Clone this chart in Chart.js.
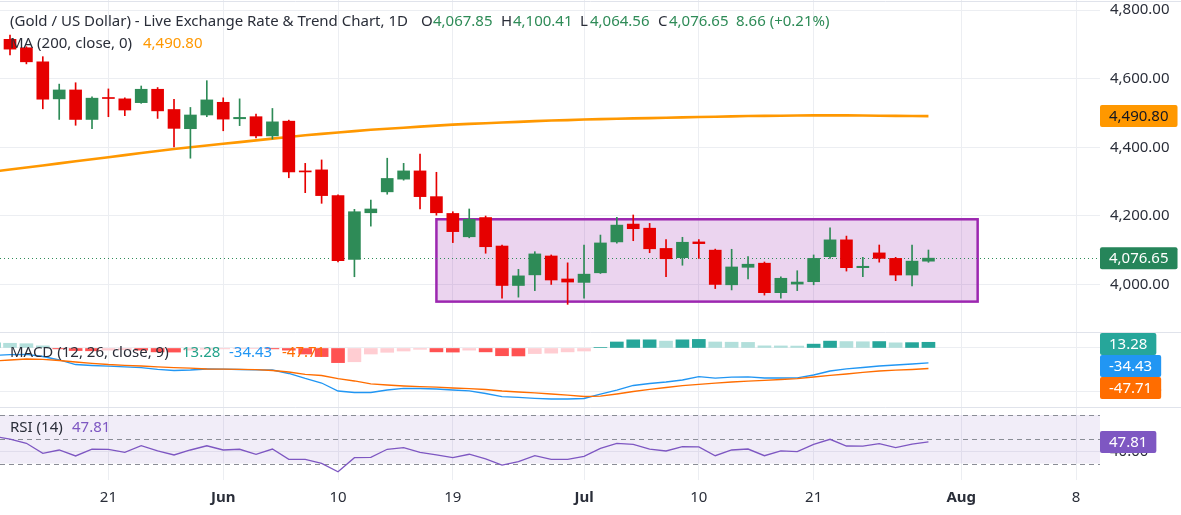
<!DOCTYPE html>
<html>
<head>
<meta charset="utf-8">
<script src="https://cdn.jsdelivr.net/npm/chart.js@4.4.1/dist/chart.umd.min.js"></script>
<style>
  html, body { margin: 0; padding: 0; background: #fff; }
  #wrap { position: relative; width: 1181px; height: 515px; }
</style>
</head>
<body>
<div id="wrap"><canvas id="goldChart" width="1181" height="515"></canvas></div>
<script>
// daily sessions, first entry is the session just left of the frame (bar -1)
const open = [4740, 4714.6, 4690, 4649, 4541, 4567, 4481, 4545, 4541, 4530, 4569, 4510, 4454, 4494, 4531, 4483, 4489, 4433, 4476, 4331,
  4334, 4259, 4073, 4209, 4270, 4307, 4331, 4256, 4207, 4139, 4195, 4112, 3997, 4028, 4083, 4016, 4006, 4034, 4124, 4176,
  4164, 4105, 4078, 4124, 4100, 3999, 4050, 4062, 3976, 4001, 4008, 4081, 4130, 4049, 4092, 4076, 4027.5, 4067.85];
const high = [4752, 4727, 4693, 4664, 4584, 4588, 4547, 4570, 4544, 4578.5, 4574, 4540, 4516, 4594, 4544, 4541, 4497, 4513, 4479, 4353,
  4363, 4261, 4219, 4246, 4368, 4353, 4380, 4327, 4212, 4220, 4199.5, 4115, 4044, 4095.5, 4086, 4063, 4115, 4144, 4196, 4202.5,
  4178, 4131, 4137.5, 4131, 4103, 4102.5, 4081, 4065.5, 4022.5, 4040, 4086, 4165, 4141, 4079, 4115, 4079, 4115, 4100.41];
const low = [4705, 4669, 4643, 4512, 4481, 4464, 4454, 4489, 4492, 4528, 4484, 4401, 4368, 4489, 4448, 4463, 4427, 4424, 4311, 4267.5,
  4236.5, 4066, 4022.5, 4170, 4263, 4304, 4220, 4202, 4122, 4136, 4091, 3960, 3963, 3982, 4000, 3942, 3960, 4032, 4120, 4127.5,
  4092.5, 4022.5, 4056, 4076, 3988, 3984, 4016, 3969, 3960, 3982, 3999, 4076, 4039, 4022.5, 4065, 4011, 3996, 4064.56];
const close = [4712, 4686, 4649, 4540, 4567, 4481, 4543, 4542, 4508.5, 4569, 4506, 4455, 4494, 4538, 4482, 4487, 4433, 4474, 4328, 4328,
  4259, 4069, 4212, 4220, 4309, 4331, 4256, 4209, 4154, 4190, 4110, 3997, 4025, 4089, 4013, 4007, 4030, 4121, 4173, 4162.5,
  4104, 4075, 4123, 4119, 4000, 4051, 4059, 3976, 4018, 4007, 4076, 4130, 4049, 4053, 4076, 4027.5, 4067.99, 4076.65];

const ma200 = [4329, 4335, 4341, 4347, 4353, 4359, 4365, 4371, 4377, 4383, 4389, 4395, 4400, 4405, 4410, 4415, 4420, 4425, 4430, 4435,
  4439, 4443, 4447, 4451, 4454, 4457, 4460, 4463, 4466, 4468, 4470, 4472, 4474, 4476, 4478, 4479, 4481, 4482, 4483, 4484,
  4485, 4486, 4487, 4488, 4489, 4490, 4491, 4491.5, 4492, 4492.5, 4493, 4493, 4493, 4492.5, 4492, 4491.5, 4491, 4490.8];

const macdLine = [-17, -15.6, -14.7, -19.8, -27.9, -38.4, -40.7, -42.3, -43.7, -45.8, -49.5, -52.3, -51.2, -48.8, -49.3, -50.0, -50.7, -51.2, -59.3, -70.9,
  -81.4, -100.0, -103.5, -103.5, -97.7, -93.7, -94.2, -95.3, -97.7, -99.5, -105.8, -113.3, -114.7, -117.0, -118.6, -118.6, -117.4, -107.0, -97.7, -87.2,
  -82.6, -79.1, -74.4, -66.7, -70.2, -67.9, -67.0, -69.8, -69.8, -69.3, -62.8, -53.5, -48.4, -45.3, -41.9, -39.5, -37.2, -34.43];
const signalLine = [-30, -27.9, -25.6, -26.3, -29.1, -32.6, -35.6, -38.4, -40.2, -41.9, -44.0, -45.6, -47.0, -48.8, -49.1, -49.5, -50.5, -52.3, -55.8, -61.2,
  -64.0, -71.0, -76.7, -83.3, -86.0, -88.4, -90.0, -91.2, -93.0, -94.4, -96.5, -100.0, -102.3, -104.2, -107.0, -109.8, -112.8, -112.1, -107.0, -101.2,
  -96.3, -91.9, -87.4, -84.4, -81.9, -79.1, -77.0, -75.1, -73.3, -71.2, -67.4, -63.7, -60.5, -56.5, -53.5, -51.6, -50.0, -47.71];
const macdHist = [12, 11, 10, 5, -2, -6, -6.5, -5, -4, -5, -9, -9.5, -5, -3, -2, -1, -0.8, -2, -5, -14,
  -20, -34, -32, -14, -10, -7, -3, -9, -9.5, -5, -9, -18, -18.5, -13, -12, -9, -7, 1, 14, 19,
  19, 16, 19, 20, 14, 13.5, 13, 5, 4.8, 4.5, 9, 16, 15, 14.5, 15, 12, 12.5, 13.28];

const rsi14 = [52.5, 50.2, 46.7, 38.5, 41.2, 36.3, 41.8, 41.7, 39.3, 44.7, 40.4, 37.1, 41.2, 44.7, 41.2, 41.8, 37.7, 42.0, 33.5, 33.4,
  30.2, 23.3, 34.9, 35.2, 41.8, 43.1, 39.3, 37.1, 34.9, 37.7, 33.8, 28.8, 31.6, 36.5, 33.5, 33.4, 36.0, 42.6, 46.7, 45.9,
  42.0, 40.4, 43.9, 43.7, 36.5, 41.2, 42.0, 36.5, 40.4, 39.8, 45.9, 50.0, 44.5, 44.4, 46.4, 43.1, 46.1, 47.81];

// time axis: bar index of each label
const tickDays = [6, 13, 20, 27, 35, 42, 49, 58, 65];
const tickLabels = ['21', 'Jun', '10', '19', 'Jul', '10', '21', 'Aug', '8'];
const priceTicks = [4000, 4200, 4400, 4600, 4800];
const macdTicks = [0, -100];
const rsiTicks = [40];
const rsiLevels = [70, 50, 30];
// consolidation box drawn on the chart (bar index / price)
const rangeBox = { fromDay: 26, toDay: 59, low: 3950, high: 4190 };

const FONT = '"Noto Sans", "DejaVu Sans", sans-serif';
const TEXT = '#2a2e39';
const UP = '#2e8b57', DOWN = '#e60000';
const GRID = '#eceef2', SEP = '#e0e3eb';

const bars = open.map((_, k) => k - 1);
const candleColor = bars.map((_, k) => close[k] >= open[k] ? UP : DOWN);
const histColor = macdHist.map((v, k) => {
  const prev = k ? macdHist[k - 1] : v;
  if (v >= 0) return v >= prev ? '#26a69a' : '#b2dfdb';
  return v < prev ? '#ff5252' : '#ffcdd2';
});

const fmt = v => v.toLocaleString('en-US', { minimumFractionDigits: 2, maximumFractionDigits: 2 });
const pts = arr => bars.map((x, k) => ({ x, y: arr[k] }));

const noPad = s => { s.paddingTop = 0; s.paddingBottom = 0; s.paddingLeft = 0; s.paddingRight = 0; };
function paneAxis(weight, min, max, ticks) {
  return {
    type: 'linear', position: 'right', stack: 'panes', stackWeight: weight,
    min, max, bounds: 'data',
    afterBuildTicks: s => { s.ticks = ticks.map(v => ({ value: v })); },
    afterFit: s => { s.width = 81; noPad(s); },
    grid: { color: GRID, drawTicks: false },
    border: { display: false },
    ticks: { padding: 10, color: TEXT, font: { family: FONT, size: 15 }, callback: v => fmt(v) }
  };
}

function tag(ctx, text, left, cy, bg, fg) {
  ctx.font = `15px ${FONT}`;
  const w = ctx.measureText(text).width + 18, h = 22;
  ctx.fillStyle = bg;
  ctx.beginPath();
  ctx.roundRect(left, cy - h / 2, w, h, 2);
  ctx.fill();
  ctx.fillStyle = fg;
  ctx.textAlign = 'left';
  ctx.textBaseline = 'middle';
  ctx.fillText(text, left + 9, cy + 1);
  return cy + h / 2;
}

function legend(ctx, parts, cy) {
  ctx.textAlign = 'left';
  ctx.textBaseline = 'middle';
  ctx.font = `15px ${FONT}`;
  for (const [text, x, color] of parts) {
    ctx.fillStyle = color;
    ctx.fillText(text, x, cy);
  }
}

const paneDecor = {
  id: 'paneDecor',
  beforeDatasetsDraw(chart) {
    const { ctx, chartArea: a, scales: { x, y, yRsi } } = chart;
    ctx.save();
    // RSI band and levels
    const r70 = yRsi.getPixelForValue(rsiLevels[0]), r30 = yRsi.getPixelForValue(rsiLevels[2]);
    ctx.fillStyle = 'rgba(126, 87, 194, 0.11)';
    ctx.fillRect(a.left, r70, a.width, r30 - r70);
    ctx.strokeStyle = '#8a8d96';
    ctx.lineWidth = 1;
    ctx.setLineDash([5, 4]);
    for (const lv of rsiLevels) {
      const py = Math.round(yRsi.getPixelForValue(lv)) + 0.5;
      ctx.beginPath(); ctx.moveTo(a.left, py); ctx.lineTo(a.right, py); ctx.stroke();
    }
    // range box
    ctx.setLineDash([]);
    const bx0 = x.getPixelForValue(rangeBox.fromDay), bx1 = x.getPixelForValue(rangeBox.toDay);
    const by0 = y.getPixelForValue(rangeBox.high), by1 = y.getPixelForValue(rangeBox.low);
    ctx.fillStyle = 'rgba(156, 39, 176, 0.2)';
    ctx.fillRect(bx0, by0, bx1 - bx0, by1 - by0);
    ctx.strokeStyle = '#9c27b0';
    ctx.lineWidth = 2.5;
    ctx.strokeRect(bx0, by0, bx1 - bx0, by1 - by0);
    // last price line
    const lp = Math.round(y.getPixelForValue(close[close.length - 1])) + 0.5;
    ctx.strokeStyle = UP;
    ctx.lineWidth = 1;
    ctx.setLineDash([1, 3]);
    ctx.beginPath(); ctx.moveTo(a.left, lp); ctx.lineTo(a.right, lp); ctx.stroke();
    ctx.restore();
  },
  afterDraw(chart) {
    const { ctx, chartArea: a, scales: { y, yMacd, yRsi } } = chart;
    const last = close.length - 1;
    ctx.save();
    // pane separators
    ctx.strokeStyle = SEP;
    ctx.lineWidth = 1;
    for (const py of [1.5, Math.round(yMacd.top) + 0.5, Math.round(yRsi.top) + 0.5]) {
      ctx.beginPath(); ctx.moveTo(0, py); ctx.lineTo(chart.width, py); ctx.stroke();
    }
    // legends
    const chg = close[last] - close[last - 1];
    legend(ctx, [
      ['(Gold / US Dollar) - Live Exchange Rate & Trend Chart, 1D', 10, TEXT],
      ['O', 421, TEXT], [fmt(open[last]), 433, UP],
      ['H', 501, TEXT], [fmt(high[last]), 513, UP],
      ['L', 580, TEXT], [fmt(low[last]), 590, UP],
      ['C', 658, TEXT], [fmt(close[last]), 669, UP],
      [`${fmt(chg)} (+${fmt(chg / close[last - 1] * 100)}%)`, 736, UP]
    ], 22);
    legend(ctx, [['MA (200, close, 0)', 10, TEXT], [fmt(ma200[last]), 143, '#ff9800']], 44);
    legend(ctx, [
      ['MACD (12, 26, close, 9)', 10, TEXT], [fmt(macdHist[last]), 182, '#22a38a'],
      [fmt(macdLine[last]), 229, '#2196f3'], [fmt(signalLine[last]), 282, '#ff6d00']
    ], 353);
    legend(ctx, [['RSI (14)', 10, TEXT], [fmt(rsi14[last]), 72, '#7e57c2']], 428);
    // value tags on the right scale
    tag(ctx, fmt(ma200[last]), a.right, y.getPixelForValue(ma200[last]), '#ff9800', '#131722');
    tag(ctx, fmt(close[last]), a.right, y.getPixelForValue(close[last]), '#26855a', '#ffffff');
    let bottom = yMacd.top + 1;
    for (const [v, bg] of [[macdHist[last], '#26a69a'], [macdLine[last], '#2196f3'], [signalLine[last], '#ff6d00']]) {
      const cy = Math.max(yMacd.getPixelForValue(v), bottom + 11);
      bottom = tag(ctx, fmt(v), a.right, cy, bg, '#ffffff');
    }
    tag(ctx, fmt(rsi14[last]), a.right, yRsi.getPixelForValue(rsi14[last]), '#7e57c2', '#ffffff');
    ctx.restore();
  }
};

new Chart(document.getElementById('goldChart'), {
  type: 'bar',
  data: {
    datasets: [
      { type: 'bar', label: 'wick', data: bars.map((x, k) => ({ x, y: [low[k], high[k]] })), yAxisID: 'y',
        backgroundColor: candleColor, barThickness: 1, grouped: false, order: 1 },
      { type: 'bar', label: 'body', data: bars.map((x, k) => ({ x, y: [open[k], close[k]] })), yAxisID: 'y',
        backgroundColor: candleColor, barThickness: 12, grouped: false, order: 0 },
      { type: 'line', label: 'MA 200', data: pts(ma200), yAxisID: 'y',
        borderColor: '#ff9800', borderWidth: 2.6, pointRadius: 0, order: 2 },
      { type: 'bar', label: 'Histogram', data: pts(macdHist), yAxisID: 'yMacd',
        backgroundColor: histColor, barThickness: 13, grouped: false, order: 5 },
      { type: 'line', label: 'MACD', data: pts(macdLine), yAxisID: 'yMacd',
        borderColor: '#2196f3', borderWidth: 1.3, pointRadius: 0, order: 4 },
      { type: 'line', label: 'Signal', data: pts(signalLine), yAxisID: 'yMacd',
        borderColor: '#ff6d00', borderWidth: 1.3, pointRadius: 0, order: 3 },
      { type: 'line', label: 'RSI', data: pts(rsi14), yAxisID: 'yRsi',
        borderColor: '#7e57c2', borderWidth: 1.3, pointRadius: 0, order: 0 }
    ]
  },
  options: {
    responsive: false,
    animation: false,
    events: [],
    layout: { padding: 0 },
    plugins: { legend: { display: false }, tooltip: { enabled: false } },
    scales: {
      x: {
        type: 'linear', min: -0.61, max: 66.46, offset: false, bounds: 'data',
        afterBuildTicks: s => { s.ticks = tickDays.map(v => ({ value: v })); },
        afterFit: s => { s.height = 35; noPad(s); },
        grid: { color: GRID, drawTicks: false, offset: false },
        border: { display: false },
        ticks: {
          autoSkip: false, maxRotation: 0, padding: 9, color: TEXT,
          font: c => ({ family: FONT, size: 15, weight: isNaN(tickLabels[c.index]) ? 'bold' : 'normal' }),
          callback: (v, i) => tickLabels[i]
        }
      },
      y: paneAxis(332, 3861.4, 4829.2, priceTicks),
      yMacd: paneAxis(75, -137.2, 37.2, macdTicks),
      yRsi: paneAxis(73, 16.5, 76.6, rsiTicks)
    }
  },
  plugins: [paneDecor]
});
</script>
</body>
</html>
